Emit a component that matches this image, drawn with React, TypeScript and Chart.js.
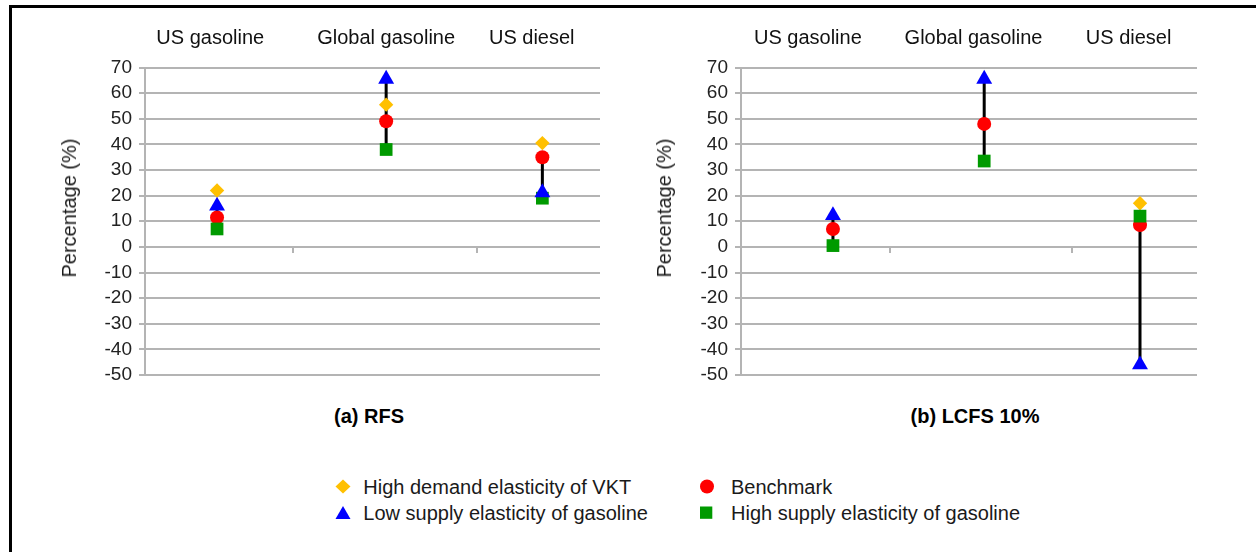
import React, { useEffect, useRef } from "react";
import { Chart, registerables } from "chart.js";

Chart.register(...registerables);

// ---------- data ----------
const categories = ["US gasoline", "Global gasoline", "US diesel"];
const seriesNames = [
  "High demand elasticity of VKT",
  "Benchmark",
  "Low supply elasticity of gasoline",
  "High supply elasticity of gasoline",
];
const panelTitles = ["(a) RFS", "(b) LCFS 10%"];
const yAxisTitle = "Percentage (%)";
const yMin = -50;
const yMax = 70;
const yStep = 10;

// (a) RFS
const rfsHighDemand = [22, 55.5, 40.5];
const rfsBenchmark = [11.5, 49, 35];
const rfsLowSupply = [16, 65.5, 21.2];
const rfsHighSupply = [7, 38, 19];

// (b) LCFS 10%
const lcfsHighDemand = [null, null, 17];
const lcfsBenchmark = [7, 48, 8.5];
const lcfsLowSupply = [12.3, 65.5, -46];
const lcfsHighSupply = [0.5, 33.5, 12];

// horizontal placement of the categories on a 0..3 axis
const rfsPointX = [0.475, 1.59, 2.62];
const rfsLabelX = [0.43, 1.59, 2.55];
const rfsDividerX = [0.976, 2.19];
const lcfsPointX = [0.605, 1.6, 2.625];
const lcfsLabelX = [0.44, 1.53, 2.55];
const lcfsDividerX = [0.98, 2.18];

// ---------- styles ----------
const FONT = "'Liberation Sans', Arial, sans-serif";
const seriesColors = ["#FFC000", "#FF0000", "#0000FF", "#009A00"];
const seriesShapes = ["rectRot", "circle", "triangle", "rect"];
const seriesRadius = [7.2, 7, 9.2, 9];
const seriesOrder = [5, 4, 2, 3];
const gridColor = "#b4b4b4";

function makeConfig(
  values: (number | null)[][],
  pointX: number[],
  labelX: number[],
  dividerX: number[],
  yAxisWidth: number,
  rightPad: number
): any {
  const pointSets = values.map((vals, s) => ({
    label: seriesNames[s],
    data: vals.map((v, i) => ({ x: pointX[i], y: v })),
    pointStyle: seriesShapes[s],
    pointRadius: seriesRadius[s],
    pointHoverRadius: seriesRadius[s],
    backgroundColor: seriesColors[s],
    borderColor: seriesColors[s],
    pointBorderWidth: 0,
    showLine: false,
    order: seriesOrder[s],
    clip: false,
  }));
  const rangeSets = categories.map((c, i) => {
    const vs = [values[1][i], values[2][i], values[3][i]].filter(
      (v) => v !== null && v !== undefined
    ) as number[];
    return {
      label: c + " range",
      data: [
        { x: pointX[i], y: Math.max(...vs) },
        { x: pointX[i], y: Math.min(...vs) },
      ],
      showLine: true,
      borderColor: "#000000",
      borderWidth: 3,
      pointRadius: 0,
      order: 10,
      clip: false,
    };
  });

  return {
    type: "scatter",
    data: { datasets: [...pointSets, ...rangeSets] },
    options: {
      animation: false,
      responsive: false,
      devicePixelRatio: 1,
      events: [],
      layout: { padding: { left: 0, right: rightPad, top: 27, bottom: 25 } },
      plugins: { legend: { display: false }, tooltip: { enabled: false } },
      scales: {
        x: {
          type: "linear",
          position: { y: 0 },
          min: 0,
          max: 3,
          ticks: { display: false, autoSkip: false },
          grid: {
            drawOnChartArea: false,
            drawTicks: true,
            tickLength: 6,
            color: gridColor,
            lineWidth: 2,
          },
          border: { display: false },
          afterBuildTicks: (s: any) => {
            s.ticks = dividerX.map((v) => ({ value: v }));
          },
        },
        xTop: {
          type: "linear",
          axis: "x",
          position: "top",
          min: 0,
          max: 3,
          grid: { display: false },
          border: { display: false },
          ticks: {
            autoSkip: false,
            maxRotation: 0,
            padding: 9,
            color: "#111111",
            font: { family: FONT, size: 20 },
            callback: (_v: any, i: number) => categories[i],
          },
          afterBuildTicks: (s: any) => {
            s.ticks = labelX.map((v) => ({ value: v }));
          },
          afterFit: (s: any) => {
            s.height = 40.5;
          },
        },
        y: {
          type: "linear",
          min: yMin,
          max: yMax,
          ticks: {
            stepSize: yStep,
            autoSkip: false,
            padding: 7,
            color: "#222222",
            font: { family: FONT, size: 19 },
          },
          grid: { color: gridColor, lineWidth: 2, tickLength: 6 },
          border: { display: true, color: gridColor, width: 2 },
          afterFit: (s: any) => {
            s.width = yAxisWidth;
          },
        },
      },
    },
  };
}

function Panel(props: {
  values: (number | null)[][];
  pointX: number[];
  labelX: number[];
  dividerX: number[];
  yAxisWidth: number;
  rightPad: number;
  left: number;
}) {
  const ref = useRef<HTMLCanvasElement | null>(null);
  useEffect(() => {
    if (!ref.current) return;
    const chart = new Chart(
      ref.current,
      makeConfig(
        props.values,
        props.pointX,
        props.labelX,
        props.dividerX,
        props.yAxisWidth,
        props.rightPad
      )
    );
    return () => chart.destroy();
  }, []);
  return (
    <canvas
      ref={ref}
      width={628}
      height={400}
      style={{
        position: "absolute",
        left: props.left,
        top: 0,
        width: 628,
        height: 400,
        display: "block",
      }}
    />
  );
}

function Marker({ s }: { s: number }) {
  const c = seriesColors[s];
  let shape: any = null;
  if (s === 0) shape = <polygon points="8,0.5 15.5,7.5 8,14.5 0.5,7.5" fill={c} />;
  if (s === 1) shape = <circle cx="8" cy="7.5" r="7" fill={c} />;
  if (s === 2) shape = <polygon points="8,1 15.5,14 0.5,14" fill={c} />;
  if (s === 3) shape = <rect x="2" y="1.5" width="12.3" height="12.3" fill={c} />;
  return (
    <svg width="16" height="15" style={{ display: "block" }}>
      {shape}
    </svg>
  );
}

const legendSlots = [
  { s: 0, mx: 342.7, y: 486.5 },
  { s: 1, mx: 707, y: 486.5 },
  { s: 2, mx: 342.7, y: 512.5 },
  { s: 3, mx: 706, y: 512.5 },
];
const legendTextX = [363.3, 731];

export default function App() {
  const textBase: any = {
    position: "absolute",
    fontFamily: FONT,
    lineHeight: 1,
    whiteSpace: "nowrap",
    color: "#1a1a1a",
  };
  return (
    <div
      style={{
        position: "absolute",
        left: 0,
        top: 0,
        width: 1256,
        height: 552,
        overflow: "hidden",
        background: "#ffffff",
      }}
    >
      <div
        style={{
          position: "absolute",
          left: 9,
          top: 5,
          width: 1400,
          height: 700,
          borderLeft: "3px solid #000",
          borderTop: "3px solid #000",
        }}
      />
      <Panel
        values={[rfsHighDemand, rfsBenchmark, rfsLowSupply, rfsHighSupply]}
        pointX={rfsPointX}
        labelX={rfsLabelX}
        dividerX={rfsDividerX}
        yAxisWidth={145}
        rightPad={28}
        left={0}
      />
      <Panel
        values={[lcfsHighDemand, lcfsBenchmark, lcfsLowSupply, lcfsHighSupply]}
        pointX={lcfsPointX}
        labelX={lcfsLabelX}
        dividerX={lcfsDividerX}
        yAxisWidth={113}
        rightPad={59}
        left={628}
      />
      {[69, 664].map((x, i) => (
        <div
          key={"yt" + i}
          style={{
            ...textBase,
            fontSize: 20,
            left: x,
            top: 207.5,
            transform: "translate(-50%, -50%) rotate(-90deg)",
          }}
        >
          {yAxisTitle}
        </div>
      ))}
      {[369, 975].map((x, i) => (
        <div
          key={"pt" + i}
          style={{
            ...textBase,
            fontSize: 20,
            fontWeight: "bold",
            color: "#000",
            left: x,
            top: 416,
            transform: "translate(-50%, -50%)",
          }}
        >
          {panelTitles[i]}
        </div>
      ))}
      {legendSlots.map((l) => (
        <React.Fragment key={"lg" + l.s}>
          <div
            style={{
              position: "absolute",
              left: l.mx - 8,
              top: l.y - 7.5,
            }}
          >
            <Marker s={l.s} />
          </div>
          <div
            style={{
              ...textBase,
              fontSize: 20,
              left: legendTextX[l.s % 2],
              top: l.y,
              transform: "translateY(-50%)",
            }}
          >
            {seriesNames[l.s]}
          </div>
        </React.Fragment>
      ))}
    </div>
  );
}
